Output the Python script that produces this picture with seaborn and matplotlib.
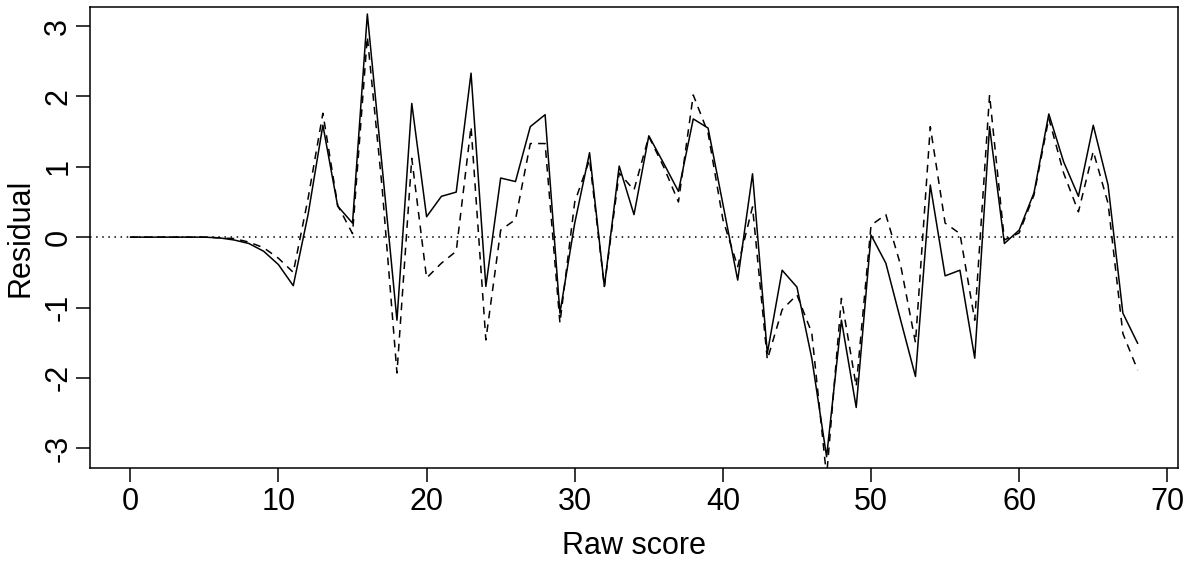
import matplotlib
matplotlib.use("Agg")
import matplotlib.pyplot as plt
import pandas as pd
import seaborn as sns

# Raw score on the x axis, two residual series on the y axis
raw_score = list(range(0, 69))

resid_solid = [
    0, 0, 0, 0, 0, 0, -0.01, -0.04, -0.09, -0.20,
    -0.39, -0.69, 0.32, 1.59, 0.44, 0.20, 3.17, 1.00, -1.18, 1.90,
    0.29, 0.58, 0.64, 2.33, -0.70, 0.84, 0.79, 1.57, 1.74, -1.08,
    0.20, 1.20, -0.70, 1.01, 0.32, 1.44, 1.05, 0.65, 1.68, 1.55,
    0.47, -0.61, 0.90, -1.65, -0.47, -0.71, -1.72, -3.12, -1.18, -2.42,
    0.03, -0.37, -1.18, -1.98, 0.74, -0.55, -0.47, -1.72, 1.57, -0.09,
    0.10, 0.63, 1.75, 1.07, 0.58, 1.59, 0.74, -1.08, -1.51,
]

resid_dashed = [
    0, 0, 0, 0, 0, 0, -0.01, -0.02, -0.07, -0.15,
    -0.30, -0.50, 0.55, 1.76, 0.45, 0.05, 2.85, 0.70, -1.93, 1.12,
    -0.58, -0.37, -0.20, 1.57, -1.46, 0.10, 0.25, 1.33, 1.33, -1.22,
    0.50, 1.10, -0.70, 0.91, 0.67, 1.43, 1.00, 0.50, 2.02, 1.48,
    0.25, -0.42, 0.43, -1.74, -1.03, -0.82, -1.36, -3.40, -0.87, -2.12,
    0.17, 0.32, -0.40, -1.50, 1.57, 0.20, 0.05, -1.18, 2.02, -0.04,
    0.06, 0.60, 1.69, 0.91, 0.36, 1.22, 0.48, -1.37, -1.89,
]

x_ticks = [0, 10, 20, 30, 40, 50, 60, 70]
y_ticks = [-3, -2, -1, 0, 1, 2, 3]

sns.set_style("ticks")
plt.rcParams["font.family"] = ["Liberation Sans", "DejaVu Sans"]
plt.rcParams["axes.unicode_minus"] = False
plt.rcParams["text.color"] = "black"
plt.rcParams["axes.labelcolor"] = "black"

df_solid = pd.DataFrame({"score": raw_score, "resid": resid_solid})
df_dashed = pd.DataFrame({"score": raw_score, "resid": resid_dashed})

fig = plt.figure(figsize=(11.92, 5.61), dpi=100)
ax = fig.add_axes([90 / 1192, 1 - 468 / 561, 1088 / 1192, 461 / 561])

ax.axhline(0, color="black", lw=1.1, linestyle=(0, (1, 3)), zorder=1)
sns.lineplot(data=df_solid, x="score", y="resid", ax=ax, color="black",
             lw=1.1, estimator=None, zorder=3)
sns.lineplot(data=df_dashed, x="score", y="resid", ax=ax, color="black",
             lw=1.1, estimator=None, zorder=2, linestyle=(0, (5, 4)))

ax.set_xlim(-2.72, 70.72)
ax.set_ylim(-3.28, 3.27)
ax.set_xticks(x_ticks)
ax.set_yticks(y_ticks)
ax.set_yticklabels([str(v) for v in y_ticks], rotation=90, va="center")

for side in ["left", "right", "top", "bottom"]:
    ax.spines[side].set_visible(True)
    ax.spines[side].set_linewidth(1.1)
    ax.spines[side].set_color("black")

ax.tick_params(axis="both", labelsize=22, length=10, width=1.1,
               color="black", labelcolor="black")
ax.tick_params(axis="x", pad=4)
ax.tick_params(axis="y", pad=2)

ax.set_xlabel("Raw score", fontsize=22, labelpad=10, color="black")
ax.set_ylabel("Residual", fontsize=22, labelpad=6, color="black")

fig.savefig("out.png", dpi=100, facecolor="white")
